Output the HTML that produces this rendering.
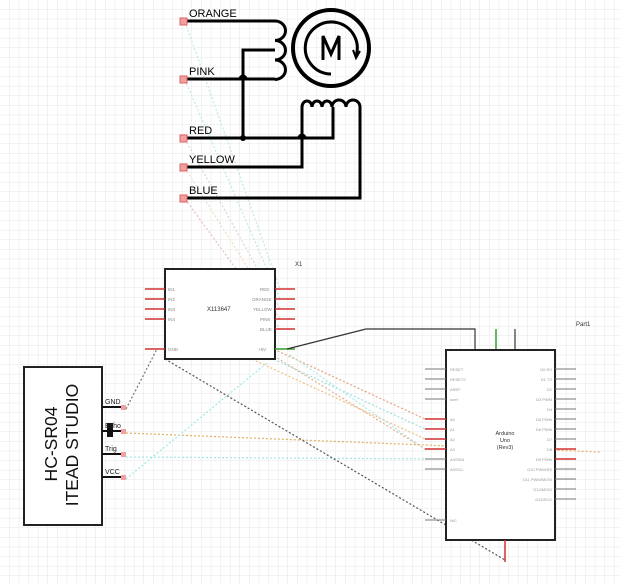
<!DOCTYPE html>
<html><head><meta charset="utf-8"><style>
html,body{margin:0;padding:0;background:#fff}
svg{display:block}
text{font-family:"Liberation Sans",sans-serif}
</style></head><body>
<svg width="620" height="585" viewBox="0 0 620 585" xmlns="http://www.w3.org/2000/svg">
<defs>
<pattern id="g" width="9.6" height="9.6" patternUnits="userSpaceOnUse">
<path d="M9.6 0V9.6H0" fill="none" stroke="#e6e6e6" stroke-width="1"/>
</pattern>
</defs>
<rect width="620" height="585" fill="url(#g)"/>

<g fill="none" stroke-width="1.2" stroke-dasharray="2,2">
<path d="M185 22L280 289" stroke="#bfe8e8"/>
<path d="M185 80L280 299" stroke="#bfe8e8"/>
<path d="M185 139L280 309" stroke="#d8d8d8"/>
<path d="M185 168L280 319" stroke="#f1dcc0"/>
<path d="M185 199L280 329" stroke="#e8c0c0"/>
<path d="M165 299L425 419" stroke="#e9a080"/>
<path d="M165 309L425 429" stroke="#9fe0e0"/>
<path d="M165 319L425 439" stroke="#f0c080"/>
<path d="M165 289L425 449" stroke="#e8b090"/>
<path d="M290 355L425 449" stroke="#b0e8e8"/>
<path d="M126 433L600 452" stroke="#e0b060"/>
<path d="M126 457L440 459" stroke="#a0e8e8"/>
<path d="M126 479L268 362" stroke="#a0e8e8"/>
<path d="M126 409L157 349" stroke="#777"/>
<path d="M165 359L505 560" stroke="#555"/>
</g>

<g fill="none" stroke="#000" stroke-width="3">
<path d="M185 21H275a7 6.5 0 0 1 0 19.5a7 6.5 0 0 1 0 19.5a7 6.5 0 0 1 0 19.5"/>
<path d="M275 50H243V138"/>
<path d="M185 79H240a3 3 0 0 1 6 0H275"/>
<path d="M185 138H299a3 3 0 0 1 6 0H333V107"/>
<path d="M185 167H302V107a5 6 0 0 1 10 0a5 6 0 0 1 10 0a5 6 0 0 1 10 0"/>
<path d="M332 107a7 7 0 0 1 14 0a7 7 0 0 1 14 0V198H185"/>
<circle cx="331" cy="48" r="38" stroke-width="4"/>
<path d="M356 56A26 26 0 1 0 331 74"/>
</g>
<circle cx="243" cy="138" r="3" fill="#000"/>
<path d="M353 50l3 8 4-7" fill="none" stroke="#000" stroke-width="2"/>
<path d="M323 60V36l8 18 8-18v24" fill="none" stroke="#000" stroke-width="3"/>
<g fill="#f0a0a0" stroke="#e06060" stroke-width="1">
<rect x="180" y="18" width="7" height="7"/><rect x="180" y="76" width="7" height="7"/>
<rect x="180" y="135" width="7" height="7"/><rect x="180" y="164" width="7" height="7"/>
<rect x="180" y="195" width="7" height="7"/>
</g>
<g font-size="11" fill="#000">
<text x="189" y="17">ORANGE</text><text x="189" y="75">PINK</text>
<text x="189" y="134">RED</text><text x="189" y="163">YELLOW</text><text x="189" y="194">BLUE</text>
</g>

<rect x="165" y="269" width="110" height="90" fill="#fff" stroke="#222" stroke-width="2"/>
<g stroke="#d03030" stroke-width="1.5">
<path d="M145 289H165M145 299H165M145 309H165M145 319H165M145 349H165"/>
<path d="M275 289H295M275 299H295M275 309H295M275 319H295M275 329H295"/>
</g>
<path d="M275 349H290L295 349" stroke="#30a030" stroke-width="1.5"/>
<path d="M287 349L366 329H475V350M515 329V350" fill="none" stroke="#333" stroke-width="1.2"/>
<path d="M496 329V350" stroke="#30a030" stroke-width="1.5"/>
<g font-size="4.5" fill="#888">
<text x="168" y="291">IN1</text><text x="168" y="301">IN2</text><text x="168" y="311">IN3</text><text x="168" y="321">IN4</text><text x="168" y="351">GND</text>
<text x="260" y="291">RED</text><text x="252" y="301">ORANGE</text><text x="253" y="311">YELLOW</text><text x="260" y="321">PINK</text><text x="260" y="331">BLUE</text><text x="258" y="351">+5V</text>
</g>
<text x="207" y="311" font-size="6" fill="#333">X113647</text>
<text x="295" y="266" font-size="6" fill="#333">X1</text>

<rect x="446" y="350" width="109" height="190" fill="#fff" stroke="#222" stroke-width="2"/>
<g stroke="#777" stroke-width="1">
<path d="M425 369H446M425 379H446M425 389H446M425 399H446M425 459H446M425 469H446M425 520H446"/>
<path d="M555 369H576M555 379H576M555 389H576M555 399H576M555 409H576M555 419H576M555 429H576M555 439H576M555 469H576M555 479H576M555 489H576M555 499H576"/>
</g>
<g stroke="#d03030" stroke-width="1.5">
<path d="M425 419H446M425 429H446M425 439H446M425 449H446M555 449H576M555 459H576M505 540V562"/>
</g>
<g font-size="4" fill="#999">
<text x="450" y="371">RESET</text><text x="450" y="381">RESET2</text><text x="450" y="391">AREF</text><text x="450" y="401">ioref</text>
<text x="450" y="421">A0</text><text x="450" y="431">A1</text><text x="450" y="441">A2</text><text x="450" y="451">A3</text>
<text x="450" y="461">A4/SDA</text><text x="450" y="471">A5/SCL</text><text x="450" y="522">N/C</text>
<g text-anchor="end">
<text x="552" y="371">D0 RX</text><text x="552" y="381">D1 TX</text><text x="552" y="391">D2</text><text x="552" y="401">D3 PWM</text><text x="552" y="411">D4</text><text x="552" y="421">D5 PWM</text><text x="552" y="431">D6 PWM</text><text x="552" y="441">D7</text><text x="552" y="451">D8</text><text x="552" y="461">D9 PWM</text><text x="552" y="471">D10 PWM/SS</text><text x="552" y="481">D11 PWM/MOSI</text><text x="552" y="491">D12/MISO</text><text x="552" y="501">D13/SCK</text>
</g>
</g>
<g font-size="5.5" fill="#333" text-anchor="middle">
<text x="505" y="435">Arduino</text><text x="505" y="442">Uno</text><text x="505" y="449">(Rev3)</text>
</g>
<text x="576" y="326" font-size="6" fill="#333">Part1</text>

<rect x="24" y="367" width="78" height="158" fill="#fff" stroke="#222" stroke-width="2"/>
<g stroke="#111" stroke-width="2">
<path d="M102 407H126M102 431H126M102 454H126M102 477H126"/>
</g>
<rect x="107" y="423" width="6" height="14" fill="#111"/>
<g fill="#f0a0a0"><rect x="121" y="405" width="5" height="5"/><rect x="121" y="429" width="5" height="5"/><rect x="121" y="452" width="5" height="5"/><rect x="121" y="475" width="5" height="5"/></g>
<g font-size="7" fill="#222">
<text x="105" y="404">GND</text><text x="105" y="428">Echo</text><text x="105" y="451">Trig</text><text x="105" y="474">VCC</text>
</g>
<g font-size="17.5" fill="#111" transform="rotate(-90)" text-anchor="middle">
<text x="-444" y="57">HC-SR04</text><text x="-445" y="78">ITEAD STUDIO</text>
</g>
</svg>
</body></html>
